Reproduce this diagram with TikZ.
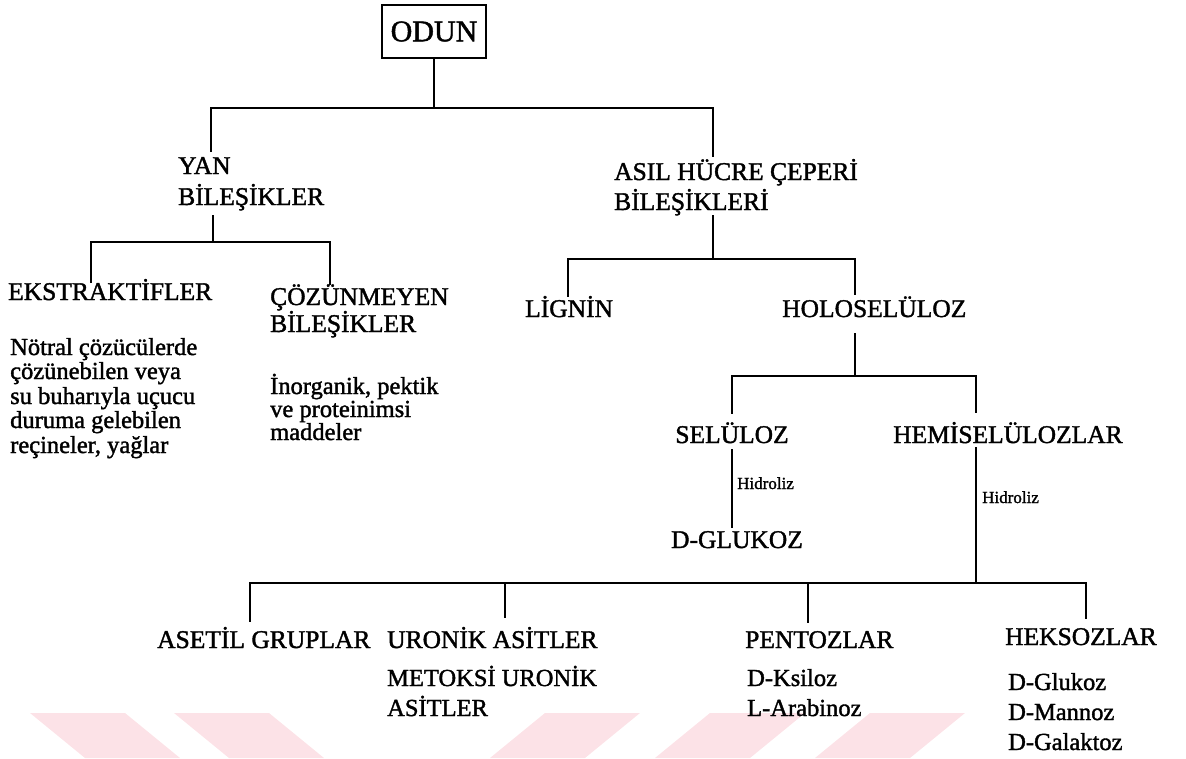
\documentclass[tikz,border=0pt]{standalone}
\usepackage{fontspec}
\setmainfont{Liberation Serif}[UprightFeatures={FakeBold=1.5}]
\definecolor{wm}{RGB}{252,226,231}
\tikzset{
  lbl/.style={inner sep=0pt, anchor=base west, font=\fontsize{25.5}{28}\selectfont},
  sub/.style={inner sep=0pt, anchor=base west, font=\fontsize{24.5}{27}\selectfont},
  small/.style={inner sep=0pt, anchor=base west, font=\fontsize{17}{19}\selectfont},
  conn/.style={line width=2pt, line cap=rect},
  wmark/.style={fill=wm, draw=none},
}
\begin{document}
\begin{tikzpicture}[x=1pt,y=-1pt]
\useasboundingbox (0,0) rectangle (1186,758);
% watermark
\fill[wmark] (30,713) -- (125,713) -- (180,758) -- (85,758) -- cycle;
\fill[wmark] (174,713) -- (269,713) -- (324,758) -- (229,758) -- cycle;
\fill[wmark] (545,713) -- (640,713) -- (585,758) -- (490,758) -- cycle;
\fill[wmark] (710,713) -- (805,713) -- (750,758) -- (655,758) -- cycle;
\fill[wmark] (870,713) -- (965,713) -- (910,758) -- (815,758) -- cycle;

% nodes
\node[draw, line width=2.4pt, minimum width=104pt, minimum height=53pt, inner sep=0pt,
      font=\fontsize{30}{32}\selectfont] (odun) at (434,31.5) {ODUN};
\node[lbl] (yan1) at (178,174) {YAN};
\node[lbl] (yan2) at (178,205) {BİLEŞİKLER};
\node[lbl] (asil1) at (614,180) {ASIL HÜCRE ÇEPERİ};
\node[lbl] (asil2) at (614,210) {BİLEŞİKLERİ};
\node[lbl] (eks) at (8,300) {EKSTRAKTİFLER};
\node[sub] (n1) at (10,355) {Nötral çözücülerde};
\node[sub] (n2) at (10,379) {çözünebilen veya};
\node[sub] (n3) at (10,404) {su buharıyla uçucu};
\node[sub] (n4) at (10,428) {duruma gelebilen};
\node[sub] (n5) at (10,453) {reçineler, yağlar};
\node[lbl] (coz1) at (270,305) {ÇÖZÜNMEYEN};
\node[lbl] (coz2) at (270,332) {BİLEŞİKLER};
\node[sub] (i1) at (270,394) {İnorganik, pektik};
\node[sub] (i2) at (270,417) {ve proteinimsi};
\node[sub] (i3) at (270,440) {maddeler};
\node[lbl] (lig) at (525,317) {LİGNİN};
\node[lbl] (holo) at (782,317) {HOLOSELÜLOZ};
\node[lbl, anchor=base] (sel) at (732,443) {SELÜLOZ};
\node[lbl] (hemi) at (893,443) {HEMİSELÜLOZLAR};
\node[small] (h1) at (737,489) {Hidroliz};
\node[small] (h2) at (982,503) {Hidroliz};
\node[lbl, anchor=base] (glu) at (737,548) {D-GLUKOZ};
\node[lbl] (aset) at (157,648) {ASETİL GRUPLAR};
\node[lbl] (uro1) at (387,648) {URONİK ASİTLER};
\node[sub] (uro2) at (387,686) {METOKSİ URONİK};
\node[sub] (uro3) at (387,716) {ASİTLER};
\node[lbl] (pen) at (745,648) {PENTOZLAR};
\node[sub] (pen1) at (747,686) {D-Ksiloz};
\node[sub] (pen2) at (747,716) {L-Arabinoz};
\node[lbl] (hek) at (1005,645) {HEKSOZLAR};
\node[sub] (hek1) at (1008,690) {D-Glukoz};
\node[sub] (hek2) at (1008,720) {D-Mannoz};
\node[sub] (hek3) at (1008,750) {D-Galaktoz};

% connector coordinates
\coordinate (j1) at (434,108);
\coordinate (cyan) at (211,151);
\coordinate (casil) at (713,156);
\coordinate (pyan) at (213,216);
\coordinate (j2) at (213,242);
\coordinate (ceks) at (91,282);
\coordinate (ccoz) at (330,284);
\coordinate (pasil) at (713,216);
\coordinate (j3) at (713,259);
\coordinate (clig) at (568,296);
\coordinate (cholo) at (855,294);
\coordinate (pholo) at (855,334);
\coordinate (j4) at (855,376);
\coordinate (csel) at (732,413);
\coordinate (chemi) at (976,412);
\coordinate (psel) at (732,450);
\coordinate (cglu) at (732,527);
\coordinate (phemi) at (976,448);
\coordinate (j5) at (976,583);
\coordinate (caset) at (250,621);
\coordinate (curo) at (505,617);
\coordinate (juro) at (505,583);
\coordinate (cpen) at (808,622);
\coordinate (jpen) at (808,583);
\coordinate (chek) at (1086,618);

% connectors
\draw[conn] (odun.south) -- (j1);
\draw[conn] (cyan) |- (j1) -| (casil);
\draw[conn] (pyan) -- (j2);
\draw[conn] (ceks) |- (j2) -| (ccoz);
\draw[conn] (pasil) -- (j3);
\draw[conn] (clig) |- (j3) -| (cholo);
\draw[conn] (pholo) -- (j4);
\draw[conn] (csel) |- (j4) -| (chemi);
\draw[conn] (psel) -- (cglu);
\draw[conn] (phemi) -- (j5);
\draw[conn] (caset) |- (j5) -| (chek);
\draw[conn] (curo) -- (juro);
\draw[conn] (cpen) -- (jpen);
\end{tikzpicture}
\end{document}
